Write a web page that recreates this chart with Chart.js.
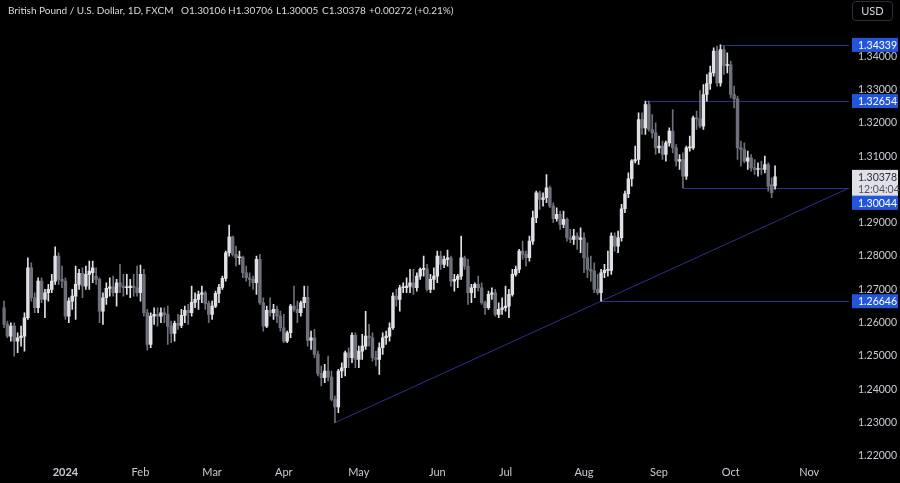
<!DOCTYPE html>
<html>
<head>
<meta charset="utf-8">
<script src="https://cdn.jsdelivr.net/npm/chart.js@4.4.1/dist/chart.umd.min.js"></script>
<style>
  html, body { margin:0; padding:0; background:#000; }
  #wrap { position:relative; width:900px; height:483px; background:#000; overflow:hidden; }
  canvas { position:absolute; left:0; top:0; }
  #hdr { position:absolute; left:0; top:4px; height:14px; font-family:Lato, "Liberation Sans", sans-serif; font-size:10px; color:#d8dae0; white-space:nowrap; }
  #hdr span { position:absolute; top:0; }
  #usd { position:absolute; left:852px; top:1px; width:41px; height:20px; border:1px solid #2a2e39; border-radius:4px; box-sizing:border-box; color:#d1d4dc; font-family:Lato, "Liberation Sans", sans-serif; font-size:11px; line-height:18px; text-align:center; }
</style>
</head>
<body>
<div id="wrap">
  <canvas id="c" width="900" height="483"></canvas>
  <div id="hdr">
    <span style="left:8px">British Pound / U.S. Dollar, 1D, FXCM</span>
    <span style="left:181px">O1.30106</span>
    <span style="left:228px">H1.30706</span>
    <span style="left:276px">L1.30005</span>
    <span style="left:322px">C1.30378</span>
    <span style="left:369px">+0.00272 (+0.21%)</span>
  </div>
  <div id="usd">USD</div>
</div>
<script>
// ---------- categories (trading days) ----------
const dates = [
 '2023-12-05','2023-12-06','2023-12-07','2023-12-08','2023-12-11','2023-12-12','2023-12-13','2023-12-14','2023-12-15','2023-12-18','2023-12-19','2023-12-20','2023-12-21','2023-12-22','2023-12-26','2023-12-27','2023-12-28','2023-12-29',
 '2024-01-02','2024-01-03','2024-01-04','2024-01-05','2024-01-08','2024-01-09','2024-01-10','2024-01-11','2024-01-12','2024-01-15','2024-01-16','2024-01-17','2024-01-18','2024-01-19','2024-01-22','2024-01-23','2024-01-24','2024-01-25','2024-01-26','2024-01-29','2024-01-30','2024-01-31',
 '2024-02-01','2024-02-02','2024-02-05','2024-02-06','2024-02-07','2024-02-08','2024-02-09','2024-02-12','2024-02-13','2024-02-14','2024-02-15','2024-02-16','2024-02-19','2024-02-20','2024-02-21','2024-02-22','2024-02-23','2024-02-26','2024-02-27','2024-02-28','2024-02-29',
 '2024-03-01','2024-03-04','2024-03-05','2024-03-06','2024-03-07','2024-03-08','2024-03-11','2024-03-12','2024-03-13','2024-03-14','2024-03-15','2024-03-18','2024-03-19','2024-03-20','2024-03-21','2024-03-22','2024-03-25','2024-03-26','2024-03-27','2024-03-28','2024-03-29',
 '2024-04-01','2024-04-02','2024-04-03','2024-04-04','2024-04-05','2024-04-08','2024-04-09','2024-04-10','2024-04-11','2024-04-12','2024-04-15','2024-04-16','2024-04-17','2024-04-18','2024-04-19','2024-04-22','2024-04-23','2024-04-24','2024-04-25','2024-04-26','2024-04-29','2024-04-30',
 '2024-05-01','2024-05-02','2024-05-03','2024-05-06','2024-05-07','2024-05-08','2024-05-09','2024-05-10','2024-05-13','2024-05-14','2024-05-15','2024-05-16','2024-05-17','2024-05-20','2024-05-21','2024-05-22','2024-05-23','2024-05-24','2024-05-27','2024-05-28','2024-05-29','2024-05-30','2024-05-31',
 '2024-06-03','2024-06-04','2024-06-05','2024-06-06','2024-06-07','2024-06-10','2024-06-11','2024-06-12','2024-06-13','2024-06-14','2024-06-17','2024-06-18','2024-06-19','2024-06-20','2024-06-21','2024-06-24','2024-06-25','2024-06-26','2024-06-27','2024-06-28',
 '2024-07-01','2024-07-02','2024-07-03','2024-07-04','2024-07-05','2024-07-08','2024-07-09','2024-07-10','2024-07-11','2024-07-12','2024-07-15','2024-07-16','2024-07-17','2024-07-18','2024-07-19','2024-07-22','2024-07-23','2024-07-24','2024-07-25','2024-07-26','2024-07-29','2024-07-30','2024-07-31',
 '2024-08-01','2024-08-02','2024-08-05','2024-08-06','2024-08-07','2024-08-08','2024-08-09','2024-08-12','2024-08-13','2024-08-14','2024-08-15','2024-08-16','2024-08-19','2024-08-20','2024-08-21','2024-08-22','2024-08-23','2024-08-26','2024-08-27','2024-08-28','2024-08-29','2024-08-30',
 '2024-09-02','2024-09-03','2024-09-04','2024-09-05','2024-09-06','2024-09-09','2024-09-10','2024-09-11','2024-09-12','2024-09-13','2024-09-16','2024-09-17','2024-09-18','2024-09-19','2024-09-20','2024-09-23','2024-09-24','2024-09-25','2024-09-26','2024-09-27','2024-09-30',
 '2024-10-01','2024-10-02','2024-10-03','2024-10-04','2024-10-07','2024-10-08','2024-10-09','2024-10-10','2024-10-11','2024-10-14','2024-10-15','2024-10-16','2024-10-17','2024-10-18'
];
const futureDates = [
 '2024-10-21','2024-10-22','2024-10-23','2024-10-24','2024-10-25','2024-10-28','2024-10-29','2024-10-30','2024-10-31',
 '2024-11-01','2024-11-04','2024-11-05','2024-11-06','2024-11-07','2024-11-08','2024-11-11','2024-11-12','2024-11-13','2024-11-14','2024-11-15'
];

// ---------- series values (GBP/USD daily OHLC) ----------
const opens = [
 1.2645,1.2595,1.2560,1.2590,1.2545,1.2555,1.2560,1.2615,1.2765,1.2675,1.2645,1.2725,1.2670,1.2690,1.2700,1.2725,1.2800,1.2730,
 1.2725,1.2620,1.2665,1.2680,1.2715,1.2748,1.2710,1.2745,1.2750,1.2740,1.2730,1.2635,1.2675,1.2703,1.2708,1.2690,1.2720,1.2710,1.2705,1.2705,1.2710,1.2705,
 1.2690,1.2745,1.2630,1.2535,1.2620,1.2625,1.2620,1.2630,1.2625,1.2590,1.2568,1.2598,1.2592,1.2622,1.2637,1.2630,1.2661,1.2670,1.2685,1.2690,1.2658,
 1.2625,1.2650,1.2688,1.2706,1.2733,1.2810,1.2858,1.2805,1.2795,1.2797,1.2750,1.2735,1.2730,1.2720,1.2790,1.2660,1.2590,1.2637,1.2630,1.2640,1.2620,
 1.2585,1.2545,1.2570,1.2650,1.2640,1.2630,1.2660,1.2676,1.2547,1.2555,1.2505,1.2448,1.2435,1.2455,1.2437,1.2370,1.2347,1.2455,1.2465,1.2510,1.2495,1.2562,
 1.2490,1.2515,1.2530,1.2560,1.2555,1.2495,1.2490,1.2525,1.2555,1.2560,1.2585,1.2680,1.2670,1.2705,1.2705,1.2710,1.2720,1.2705,1.2740,1.2760,1.2762,1.2700,1.2730,
 1.2740,1.2800,1.2775,1.2790,1.2795,1.2725,1.2730,1.2740,1.2795,1.2770,1.2690,1.2705,1.2715,1.2705,1.2660,1.2645,1.2685,1.2690,1.2625,1.2640,
 1.2645,1.2650,1.2685,1.2745,1.2760,1.2815,1.2805,1.2795,1.2845,1.2915,1.2990,1.2970,1.2975,1.3005,1.2950,1.2912,1.2925,1.2895,1.2910,1.2855,1.2850,1.2860,1.2850,
 1.2855,1.2795,1.2760,1.2755,1.2700,1.2690,1.2750,1.2757,1.2757,1.2860,1.2830,1.2855,1.2942,1.2987,1.3032,1.3086,1.3090,1.3210,1.3185,1.3255,1.3180,1.3170,
 1.3125,1.3130,1.3105,1.3140,1.3175,1.3125,1.3085,1.3090,1.3040,1.3125,1.3125,1.3215,1.3212,1.3190,1.3285,1.3318,1.3350,1.3415,1.3320,1.3420,1.3372,
 1.3375,1.3285,1.3272,1.3125,1.3120,1.3085,1.3095,1.3065,1.3060,1.3062,1.3060,1.3075,1.3015,1.30106
];
const highs = [
 1.2665,1.2605,1.2600,1.2600,1.2570,1.2590,1.2630,1.2795,1.2780,1.2690,1.2735,1.2735,1.2700,1.2715,1.2745,1.2828,1.2810,1.2770,
 1.2735,1.2675,1.2700,1.2770,1.2760,1.2765,1.2770,1.2785,1.2785,1.2765,1.2735,1.2690,1.2720,1.2735,1.2740,1.2730,1.2775,1.2745,1.2745,1.2730,1.2745,1.2770,
 1.2773,1.2760,1.2640,1.2630,1.2645,1.2645,1.2645,1.2645,1.2650,1.2605,1.2605,1.2625,1.2640,1.2650,1.2655,1.2710,1.2690,1.2695,1.2710,1.2695,1.2665,
 1.2665,1.2695,1.2715,1.2740,1.2815,1.2893,1.2860,1.2830,1.2815,1.2800,1.2770,1.2750,1.2740,1.2800,1.2805,1.2675,1.2650,1.2675,1.2655,1.2650,1.2635,
 1.2625,1.2575,1.2655,1.2710,1.2665,1.2665,1.2710,1.2710,1.2575,1.2580,1.2515,1.2470,1.2475,1.2500,1.2455,1.2380,1.2460,1.2480,1.2515,1.2525,1.2570,1.2570,
 1.2530,1.2565,1.2634,1.2595,1.2570,1.2515,1.2540,1.2570,1.2575,1.2600,1.2690,1.2700,1.2712,1.2720,1.2735,1.2760,1.2760,1.2750,1.2765,1.2800,1.2775,1.2745,1.2765,
 1.2815,1.2815,1.2800,1.2818,1.2800,1.2745,1.2745,1.2860,1.2800,1.2790,1.2715,1.2720,1.2740,1.2720,1.2665,1.2695,1.2705,1.2700,1.2660,1.2675,
 1.2710,1.2700,1.2760,1.2770,1.2820,1.2845,1.2815,1.2860,1.2935,1.2995,1.2995,1.2990,1.3045,1.3010,1.2960,1.2945,1.2935,1.2935,1.2915,1.2880,1.2880,1.2870,1.2885,
 1.2870,1.2840,1.2800,1.2780,1.2745,1.2760,1.2775,1.2815,1.2870,1.2870,1.2875,1.2955,1.2995,1.3050,1.3090,1.3130,1.3230,1.3230,1.32654,1.3265,1.3225,1.3200,
 1.3160,1.3145,1.3145,1.3185,1.3240,1.3135,1.3105,1.3110,1.3130,1.3160,1.3220,1.3235,1.3297,1.3315,1.3345,1.3370,1.3425,1.3430,1.34339,1.3430,1.3410,
 1.3385,1.3310,1.3280,1.3145,1.3140,1.3115,1.3105,1.3090,1.3080,1.3085,1.3100,1.3080,1.3035,1.30706
];
const lows = [
 1.2585,1.2555,1.2545,1.2500,1.2510,1.2530,1.2515,1.2610,1.2665,1.2630,1.2630,1.2660,1.2615,1.2665,1.2690,1.2715,1.2715,1.2705,
 1.2610,1.2600,1.2640,1.2610,1.2700,1.2675,1.2700,1.2700,1.2720,1.2715,1.2600,1.2595,1.2655,1.2680,1.2680,1.2650,1.2690,1.2680,1.2685,1.2675,1.2680,1.2680,
 1.2665,1.2620,1.2518,1.2525,1.2595,1.2590,1.2600,1.2600,1.2535,1.2540,1.2545,1.2580,1.2585,1.2600,1.2595,1.2620,1.2645,1.2640,1.2660,1.2640,1.2600,
 1.2610,1.2645,1.2660,1.2700,1.2725,1.2800,1.2800,1.2770,1.2775,1.2735,1.2725,1.2710,1.2700,1.2685,1.2655,1.2575,1.2585,1.2620,1.2610,1.2600,1.2575,
 1.2540,1.2540,1.2555,1.2635,1.2600,1.2620,1.2645,1.2530,1.2520,1.2495,1.2440,1.2410,1.2420,1.2425,1.2365,1.2300,1.2330,1.2435,1.2440,1.2465,1.2480,1.2465,
 1.2465,1.2490,1.2520,1.2530,1.2485,1.2470,1.2445,1.2505,1.2535,1.2545,1.2580,1.2650,1.2635,1.2690,1.2690,1.2690,1.2685,1.2695,1.2730,1.2740,1.2695,1.2690,1.2700,
 1.2720,1.2760,1.2765,1.2770,1.2710,1.2695,1.2705,1.2730,1.2760,1.2655,1.2660,1.2675,1.2695,1.2655,1.2625,1.2640,1.2670,1.2620,1.2615,1.2625,
 1.2635,1.2615,1.2680,1.2740,1.2750,1.2790,1.2770,1.2785,1.2835,1.2900,1.2940,1.2950,1.2960,1.2945,1.2900,1.2905,1.2880,1.2885,1.2845,1.2840,1.2835,1.2820,1.2810,
 1.2750,1.2735,1.2725,1.2690,1.2685,1.26646,1.2735,1.2740,1.2745,1.2815,1.2810,1.2845,1.2930,1.2975,1.3010,1.3080,1.3075,1.3165,1.3165,1.3175,1.3155,1.3105,
 1.3110,1.3090,1.3085,1.3130,1.3110,1.3070,1.3060,1.30044,1.3030,1.3115,1.3120,1.3180,1.3185,1.3180,1.3265,1.3300,1.3340,1.3310,1.3310,1.3345,1.3350,
 1.3275,1.3245,1.3090,1.3070,1.3080,1.3060,1.3055,1.3045,1.3040,1.3045,1.3050,1.2995,1.2975,1.30005
];
const closes = [
 1.2595,1.2560,1.2590,1.2545,1.2555,1.2560,1.2615,1.2765,1.2675,1.2645,1.2725,1.2670,1.2690,1.2700,1.2725,1.2800,1.2730,1.2725,
 1.2620,1.2665,1.2680,1.2715,1.2748,1.2710,1.2745,1.2755,1.2765,1.2730,1.2635,1.2675,1.2703,1.2708,1.2690,1.2720,1.2710,1.2705,1.2705,1.2710,1.2705,1.2690,
 1.2745,1.2630,1.2535,1.2620,1.2625,1.2620,1.2630,1.2625,1.2590,1.2568,1.2598,1.2592,1.2622,1.2637,1.2630,1.2661,1.2670,1.2685,1.2690,1.2658,1.2625,
 1.2650,1.2688,1.2706,1.2733,1.2810,1.2858,1.2805,1.2795,1.2797,1.2750,1.2735,1.2730,1.2720,1.2790,1.2660,1.2590,1.2637,1.2630,1.2640,1.2620,1.2585,
 1.2545,1.2570,1.2650,1.2640,1.2630,1.2660,1.2676,1.2547,1.2555,1.2505,1.2448,1.2435,1.2455,1.2437,1.2370,1.2347,1.2455,1.2465,1.2510,1.2495,1.2562,1.2490,
 1.2515,1.2530,1.2560,1.2555,1.2495,1.2490,1.2525,1.2555,1.2560,1.2585,1.2680,1.2670,1.2705,1.2705,1.2710,1.2720,1.2705,1.2740,1.2760,1.2762,1.2700,1.2730,1.2740,
 1.2800,1.2775,1.2790,1.2795,1.2725,1.2730,1.2740,1.2795,1.2770,1.2690,1.2705,1.2715,1.2705,1.2660,1.2645,1.2685,1.2690,1.2625,1.2640,1.2645,
 1.2650,1.2685,1.2745,1.2760,1.2815,1.2805,1.2795,1.2845,1.2915,1.2990,1.2970,1.2975,1.3005,1.2950,1.2912,1.2925,1.2895,1.2910,1.2855,1.2850,1.2860,1.2850,1.2855,
 1.2795,1.2760,1.2755,1.2700,1.2690,1.2750,1.2757,1.2757,1.2860,1.2830,1.2855,1.2942,1.2987,1.3032,1.3086,1.3090,1.3210,1.3185,1.3255,1.3180,1.3170,1.3125,
 1.3130,1.3105,1.3140,1.3175,1.3125,1.3085,1.3090,1.3040,1.3125,1.3125,1.3215,1.3212,1.3190,1.3285,1.3318,1.3350,1.3415,1.3320,1.3420,1.3372,1.3375,
 1.3285,1.3272,1.3125,1.3120,1.3085,1.3095,1.3065,1.3060,1.3062,1.3060,1.3075,1.3010,1.2990,1.30378
];

// ---------- tick labels / annotations ----------
const yTicks = [1.22,1.23,1.24,1.25,1.26,1.27,1.28,1.29,1.30,1.31,1.32,1.33,1.34];
const monthNames = ['2024','Feb','Mar','Apr','May','Jun','Jul','Aug','Sep','Oct','Nov','Dec'];
const levelPrices = [1.34339, 1.32654, 1.30044, 1.26646];
const levelFrom = ['2024-09-26','2024-08-27','2024-09-11','2024-08-08'];
const trendDates = ['2024-04-22','2024-08-08'];
const trendPrices = [1.2300, 1.26646];
const lastPrice = 1.30378;
const countdown = '12:04:04';
const yMin = 1.21820, yMax = 1.35107;

// ---------- styles ----------
const UP = '#e0e1e6', DOWN = '#6e717b';
const LINE = '#2c3190';
const LBL_BLUE = '#2156dc';
const TXT = '#c9ccd4';
const FONT = 'Lato, "Liberation Sans", sans-serif';

const allLabels = dates.concat(futureDates);
const wickData = dates.map((d, i) => [lows[i], highs[i]]);
const bodyData = dates.map((d, i) => [opens[i], closes[i]]);
const barColors = dates.map((d, i) => closes[i] >= opens[i] ? UP : DOWN);

const overlay = {
  id: 'overlay',
  beforeDatasetsDraw(chart) {
    const { ctx, chartArea: a, scales: { x, y } } = chart;
    ctx.save();
    ctx.strokeStyle = LINE;
    ctx.lineWidth = 1;
    levelPrices.forEach((p, i) => {
      const x0 = x.getPixelForValue(dates.indexOf(levelFrom[i]));
      const yy = Math.round(y.getPixelForValue(p)) + 0.5;
      ctx.beginPath(); ctx.moveTo(x0, yy); ctx.lineTo(a.right + 4, yy); ctx.stroke();
    });
    const x1 = x.getPixelForValue(dates.indexOf(trendDates[0]));
    const x2 = x.getPixelForValue(dates.indexOf(trendDates[1]));
    const y1 = y.getPixelForValue(trendPrices[0]);
    const y2 = y.getPixelForValue(trendPrices[1]);
    const xr = a.right + 3;
    const yr = y1 + (y2 - y1) * (xr - x1) / (x2 - x1);
    ctx.beginPath(); ctx.moveTo(x1, y1); ctx.lineTo(xr, yr); ctx.stroke();
    ctx.restore();
  },
  afterDraw(chart) {
    const { ctx, chartArea: a, scales: { y } } = chart;
    ctx.save();
    const bx = a.right + 7, bw = 46;
    const yc = y.getPixelForValue(lastPrice);
    const ch = 26;
    ctx.fillStyle = '#dfe1e6';
    ctx.fillRect(bx, yc - 7, bw, ch);
    ctx.fillStyle = '#2a2e39';
    ctx.font = '10.5px ' + FONT;
    ctx.textBaseline = 'middle';
    ctx.textAlign = 'left';
    ctx.fillText(lastPrice.toFixed(5), bx + 6, yc + 0.5);
    ctx.fillStyle = '#50535e';
    ctx.fillText(countdown, bx + 6, yc + 12.5);
    levelPrices.forEach((p) => {
      let yl = y.getPixelForValue(p);
      if (Math.abs(yl - yc) < 22) yl = yc - 7 + ch + 7;
      ctx.fillStyle = LBL_BLUE;
      ctx.fillRect(bx, yl - 7, bw, 14);
      ctx.fillStyle = '#ffffff';
      ctx.fillText(p.toFixed(5), bx + 6, yl + 0.5);
    });
    ctx.restore();
  }
};

new Chart(document.getElementById('c'), {
  type: 'bar',
  data: {
    labels: allLabels,
    datasets: [
      { data: wickData, backgroundColor: barColors, barThickness: 1, grouped: false, order: 2 },
      { data: bodyData, backgroundColor: barColors, barThickness: 2.8, minBarLength: 1, grouped: false, order: 1 }
    ]
  },
  options: {
    responsive: false,
    animation: false,
    devicePixelRatio: 1,
    layout: { padding: 0 },
    plugins: { legend: { display: false }, tooltip: { enabled: false } },
    scales: {
      x: {
        type: 'category',
        offset: true,
        grid: { display: false, drawTicks: false },
        border: { display: false },
        afterFit(axis) { axis.height = 21; },
        ticks: {
          autoSkip: false, maxRotation: 0, minRotation: 0, padding: 4,
          color: TXT,
          font: (c) => ({ family: FONT, size: 11, weight: (c.tick && c.tick.label === '2024') ? 'bold' : 'normal' }),
          callback(val, idx) {
            if (val === 0) return '';
            const d = allLabels[val], p = allLabels[val - 1];
            if (d.slice(5, 7) !== p.slice(5, 7)) return monthNames[+d.slice(5, 7) - 1];
            return '';
          }
        }
      },
      y: {
        position: 'right',
        min: yMin,
        max: yMax,
        grid: { display: false, drawTicks: false },
        border: { display: false },
        afterFit(axis) { axis.width = 55; },
        afterBuildTicks(axis) { axis.ticks = yTicks.map(v => ({ value: v })); },
        ticks: {
          padding: 13,
          color: TXT,
          font: { family: FONT, size: 10.5 },
          callback: (v) => Number(v).toFixed(5)
        }
      }
    }
  },
  plugins: [overlay]
});
</script>
</body>
</html>
